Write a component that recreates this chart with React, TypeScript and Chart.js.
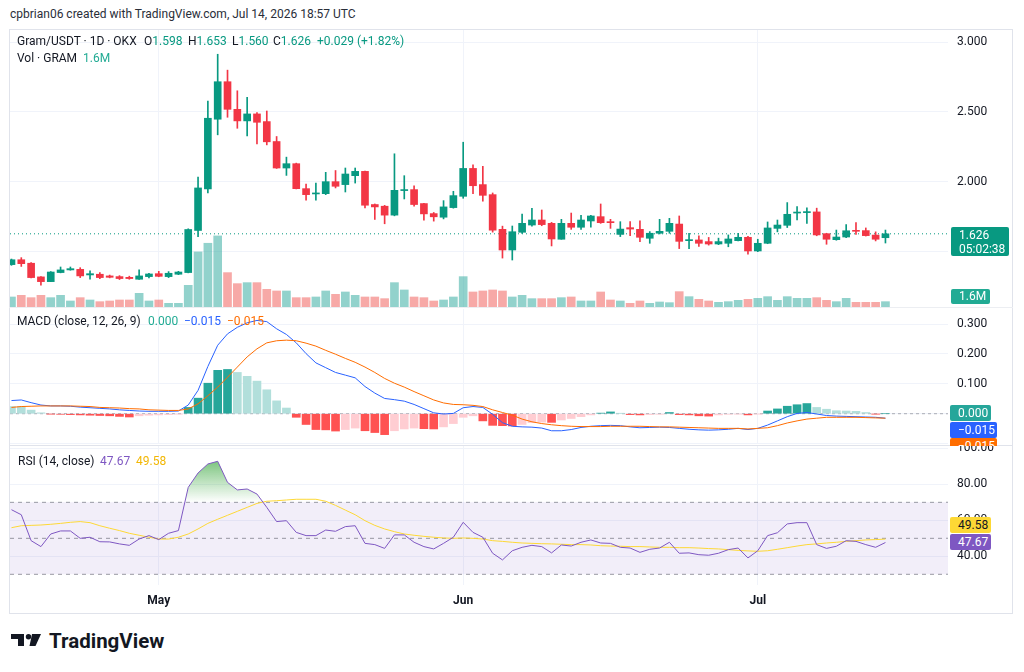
import React, { useEffect, useRef } from 'react';
import { Chart, registerables } from 'chart.js';

Chart.register(...registerables);

const FONT = 'Roboto, "Liberation Sans", Arial, sans-serif';
const TEXT = '#131722';
const GRID = '#f0f3fa';

// x index 0 = Apr 16, one candle per day
const MONTH_TICKS = [15, 46, 76];
const MONTH_LABELS = ['May', 'Jun', 'Jul'];

const OPEN = [
  1.405, 1.440, 1.415, 1.317, 1.283, 1.348, 1.367, 1.371, 1.331, 1.336,
  1.324, 1.319, 1.314, 1.300, 1.319, 1.340, 1.319, 1.336, 1.348, 1.650,
  1.948, 2.448, 2.717, 2.519, 2.436, 2.486, 2.431, 2.288, 2.098, 2.129,
  1.950, 1.912, 1.914, 2.000, 1.979, 2.043, 2.074, 1.836, 1.824, 1.760,
  1.936, 1.943, 1.843, 1.771, 1.745, 1.814, 1.895, 2.095, 1.979, 1.907,
  1.658, 1.510, 1.637, 1.689, 1.725, 1.701, 1.587, 1.701, 1.673, 1.718,
  1.749, 1.713, 1.622, 1.670, 1.658, 1.594, 1.630, 1.644, 1.696, 1.577,
  1.582, 1.570, 1.553, 1.558, 1.577, 1.601, 1.503, 1.558, 1.665, 1.687,
  1.775, 1.778, 1.783, 1.627, 1.584, 1.603, 1.650, 1.649, 1.617, 1.598,
];
const HIGH = [
  1.445, 1.455, 1.420, 1.320, 1.355, 1.388, 1.388, 1.383, 1.360, 1.348,
  1.330, 1.326, 1.322, 1.367, 1.343, 1.357, 1.355, 1.357, 1.662, 2.033,
  2.579, 2.914, 2.800, 2.652, 2.605, 2.495, 2.507, 2.324, 2.176, 2.133,
  1.983, 1.990, 2.067, 2.080, 2.098, 2.098, 2.076, 1.840, 1.830, 2.200,
  2.043, 1.971, 1.845, 1.779, 1.864, 1.931, 2.283, 2.121, 2.110, 1.919,
  1.681, 1.682, 1.768, 1.809, 1.797, 1.708, 1.730, 1.775, 1.758, 1.758,
  1.840, 1.730, 1.713, 1.713, 1.720, 1.642, 1.730, 1.737, 1.754, 1.630,
  1.612, 1.600, 1.595, 1.618, 1.630, 1.608, 1.587, 1.711, 1.725, 1.850,
  1.822, 1.812, 1.810, 1.630, 1.653, 1.693, 1.706, 1.668, 1.640, 1.653,
];
const LOW = [
  1.400, 1.392, 1.310, 1.258, 1.283, 1.346, 1.365, 1.312, 1.300, 1.305,
  1.310, 1.298, 1.300, 1.298, 1.310, 1.318, 1.312, 1.333, 1.346, 1.605,
  1.919, 2.336, 2.462, 2.383, 2.329, 2.271, 2.264, 2.095, 2.045, 1.948,
  1.867, 1.867, 1.907, 1.955, 1.926, 1.990, 1.812, 1.729, 1.698, 1.755,
  1.876, 1.824, 1.724, 1.717, 1.733, 1.810, 1.881, 1.914, 1.860, 1.638,
  1.452, 1.438, 1.629, 1.681, 1.684, 1.539, 1.587, 1.658, 1.658, 1.673,
  1.701, 1.665, 1.606, 1.613, 1.570, 1.558, 1.625, 1.630, 1.520, 1.520,
  1.535, 1.545, 1.548, 1.533, 1.575, 1.480, 1.498, 1.555, 1.640, 1.671,
  1.726, 1.700, 1.612, 1.551, 1.580, 1.598, 1.622, 1.610, 1.575, 1.560,
];
const CLOSE = [
  1.440, 1.412, 1.312, 1.283, 1.352, 1.367, 1.376, 1.324, 1.340, 1.312,
  1.314, 1.305, 1.305, 1.324, 1.338, 1.321, 1.343, 1.352, 1.657, 1.955,
  2.455, 2.717, 2.519, 2.436, 2.486, 2.426, 2.286, 2.098, 2.129, 1.950,
  1.907, 1.919, 2.000, 1.967, 2.055, 2.074, 1.831, 1.819, 1.760, 1.938,
  1.943, 1.836, 1.769, 1.748, 1.819, 1.900, 2.095, 1.971, 1.902, 1.652,
  1.510, 1.641, 1.701, 1.725, 1.692, 1.589, 1.701, 1.673, 1.725, 1.754,
  1.706, 1.706, 1.660, 1.660, 1.601, 1.630, 1.644, 1.701, 1.572, 1.584,
  1.558, 1.553, 1.570, 1.589, 1.601, 1.503, 1.558, 1.668, 1.689, 1.766,
  1.782, 1.783, 1.618, 1.587, 1.603, 1.648, 1.644, 1.613, 1.587, 1.626,
];
// volume in millions of GRAM
const VOLUME = [
  3.0, 3.5, 2.8, 3.5, 2.8, 3.5, 1.8, 2.8, 2.1, 1.6,
  1.8, 2.1, 2.1, 4.1, 1.8, 2.1, 1.1, 1.1, 6.5, 16.5,
  19.1, 21.3, 10.3, 7.0, 7.3, 7.3, 5.3, 4.8, 4.8, 2.8,
  2.8, 3.0, 4.8, 3.8, 4.5, 3.5, 3.0, 3.0, 2.5, 7.3,
  5.1, 3.0, 2.8, 1.8, 2.1, 3.0, 9.1, 4.5, 4.8, 5.1,
  4.8, 3.0, 3.5, 2.5, 2.5, 2.5, 2.8, 3.0, 1.8, 1.8,
  4.5, 2.1, 1.8, 1.1, 1.8, 1.1, 1.5, 1.3, 4.6, 3.1,
  2.3, 1.8, 1.4, 1.6, 2.0, 2.3, 2.6, 3.1, 2.0, 3.1,
  2.6, 2.6, 2.8, 2.0, 1.6, 2.6, 1.4, 1.4, 1.4, 1.6,
];
const MACD_LINE = [
  0.044, 0.046, 0.037, 0.029, 0.026, 0.026, 0.025, 0.022, 0.020, 0.018,
  0.016, 0.013, 0.011, 0.009, 0.008, 0.008, 0.008, 0.009, 0.029, 0.078,
  0.158, 0.229, 0.267, 0.289, 0.304, 0.312, 0.308, 0.284, 0.265, 0.237,
  0.201, 0.170, 0.154, 0.138, 0.129, 0.120, 0.091, 0.069, 0.051, 0.047,
  0.042, 0.031, 0.017, 0.003, -0.001, 0.001, 0.020, 0.024, 0.021, -0.002,
  -0.030, -0.042, -0.044, -0.045, -0.048, -0.057, -0.057, -0.053, -0.046, -0.042,
  -0.040, -0.039, -0.040, -0.044, -0.047, -0.046, -0.045, -0.046, -0.049, -0.052,
  -0.054, -0.055, -0.054, -0.052, -0.049, -0.053, -0.049, -0.038, -0.024, -0.010,
  0.001, 0.004, -0.001, -0.006, -0.008, -0.009, -0.010, -0.011, -0.012, -0.015,
];
const SIGNAL_LINE = [
  0.021, 0.024, 0.025, 0.026, 0.026, 0.026, 0.026, 0.025, 0.024, 0.021,
  0.020, 0.019, 0.017, 0.016, 0.013, 0.012, 0.011, 0.011, 0.016, 0.033,
  0.060, 0.089, 0.122, 0.156, 0.190, 0.217, 0.237, 0.244, 0.246, 0.244,
  0.236, 0.226, 0.212, 0.199, 0.185, 0.172, 0.156, 0.138, 0.118, 0.102,
  0.089, 0.074, 0.060, 0.046, 0.036, 0.031, 0.030, 0.028, 0.024, 0.013,
  0.004, -0.005, -0.018, -0.027, -0.033, -0.037, -0.040, -0.042, -0.043, -0.043,
  -0.043, -0.042, -0.042, -0.042, -0.042, -0.043, -0.044, -0.044, -0.045, -0.046,
  -0.047, -0.048, -0.049, -0.049, -0.049, -0.051, -0.049, -0.047, -0.040, -0.031,
  -0.024, -0.018, -0.015, -0.012, -0.012, -0.012, -0.012, -0.013, -0.014, -0.015,
];
const HISTOGRAM = [
  0.024, 0.024, 0.012, 0.003, -0.001, -0.002, -0.003, -0.004, -0.005, -0.006,
  -0.007, -0.009, -0.011, -0.007, -0.005, -0.004, -0.003, -0.001, 0.021, 0.052,
  0.102, 0.145, 0.148, 0.138, 0.125, 0.109, 0.080, 0.043, 0.019, -0.012,
  -0.036, -0.053, -0.054, -0.058, -0.053, -0.048, -0.057, -0.063, -0.070, -0.057,
  -0.051, -0.048, -0.050, -0.051, -0.044, -0.033, -0.012, -0.007, -0.024, -0.039,
  -0.040, -0.041, -0.036, -0.030, -0.028, -0.029, -0.021, -0.016, -0.010, -0.004,
  0.002, 0.006, 0.001, -0.003, -0.004, -0.003, -0.002, 0.004, -0.003, -0.004,
  -0.007, -0.008, -0.004, -0.002, -0.001, -0.004, -0.001, 0.009, 0.016, 0.025,
  0.030, 0.034, 0.021, 0.015, 0.010, 0.009, 0.008, 0.004, -0.001, 0.000,
];
const RSI = [
  65.9, 63.1, 48.7, 45.4, 52.4, 54.1, 54.1, 50.0, 50.6, 48.1,
  48.0, 46.9, 46.1, 49.6, 51.5, 49.3, 52.8, 54.3, 78.3, 86.3,
  91.3, 92.8, 81.1, 76.9, 77.4, 74.6, 67.2, 59.3, 59.8, 53.3,
  51.5, 51.5, 54.6, 53.9, 56.5, 57.0, 47.2, 46.5, 44.4, 51.9,
  51.9, 47.8, 45.4, 44.1, 47.2, 50.6, 58.9, 53.3, 50.6, 41.7,
  38.0, 43.1, 45.0, 46.1, 45.4, 41.9, 46.3, 45.7, 47.8, 49.1,
  47.4, 47.2, 45.0, 44.6, 42.2, 43.9, 44.6, 47.8, 41.7, 41.9,
  40.9, 40.6, 41.7, 43.7, 44.6, 39.1, 43.1, 51.5, 53.1, 58.0,
  58.7, 58.7, 46.5, 44.4, 45.6, 48.7, 48.3, 46.5, 45.0, 47.67,
];
const RSI_MA = [
  55.9, 57.0, 57.2, 57.4, 57.8, 58.3, 58.9, 59.3, 58.7, 57.0,
  55.6, 54.3, 52.8, 51.7, 50.6, 49.6, 49.6, 50.6, 52.4, 55.2,
  58.3, 60.6, 62.8, 65.0, 67.2, 69.4, 70.6, 70.9, 71.3, 71.7,
  71.7, 71.7, 70.6, 68.3, 65.7, 63.1, 59.8, 57.2, 55.2, 53.7,
  52.4, 51.7, 51.1, 50.6, 50.2, 50.0, 50.2, 50.0, 49.6, 48.7,
  48.3, 47.8, 47.4, 47.2, 47.0, 46.9, 46.7, 46.5, 46.5, 46.3,
  45.9, 45.7, 45.6, 45.4, 45.4, 45.2, 45.0, 45.0, 44.8, 44.8,
  44.6, 44.3, 44.1, 43.7, 43.3, 43.0, 42.8, 43.1, 43.9, 44.8,
  45.7, 46.5, 46.9, 47.4, 47.8, 48.3, 48.7, 49.1, 49.3, 49.58,
];

const PRICE_TICKS = [1.5, 2.0, 2.5, 3.0];
const MACD_TICKS = [-0.1, 0, 0.1, 0.2, 0.3];
const RSI_TICKS = [40, 60, 80, 100];
const RSI_LEVELS = [70, 50, 30];

const X_MIN = -0.15;
const X_MAX = 95.37;

const UP = '#089981';
const DOWN = '#f23645';
const VOL_UP = 'rgba(38,166,154,0.5)';
const VOL_DOWN = 'rgba(239,83,80,0.5)';

const IDX = OPEN.map((_, i) => i);
const N = OPEN.length;
const isUp = (i: number) => CLOSE[i] >= OPEN[i];

const common: any = {
  responsive: false,
  animation: false,
  devicePixelRatio: 1,
  events: [],
  layout: { padding: 0, autoPadding: false },
  plugins: { legend: { display: false }, tooltip: { enabled: false } },
};

function zeroPad(s: any) {
  s.paddingTop = 0;
  s.paddingBottom = 0;
  s.paddingLeft = 0;
  s.paddingRight = 0;
}

function xScale(showLabels: boolean): any {
  return {
    type: 'linear',
    min: X_MIN,
    max: X_MAX,
    offset: false,
    grid: { color: GRID, drawTicks: false, offset: false },
    border: { display: false },
    afterBuildTicks: (s: any) => {
      s.ticks = MONTH_TICKS.map((v) => ({ value: v }));
    },
    ticks: {
      display: showLabels,
      autoSkip: false,
      maxRotation: 0,
      padding: 9,
      color: TEXT,
      font: { family: FONT, size: 12, weight: 'bold' },
      callback: (v: number) => {
        const k = MONTH_TICKS.indexOf(v);
        return k >= 0 ? MONTH_LABELS[k] : '';
      },
    },
    afterFit: (s: any) => {
      s.height = showLabels ? 28 : 0;
      zeroPad(s);
    },
  };
}

function yScale(min: number, max: number, ticks: number[], fmt: (v: number) => string): any {
  return {
    type: 'linear',
    position: 'right',
    min,
    max,
    grid: { color: GRID, drawTicks: false },
    border: { display: false },
    afterBuildTicks: (s: any) => {
      s.ticks = ticks.map((v) => ({ value: v }));
    },
    ticks: {
      padding: 9,
      color: TEXT,
      font: { family: FONT, size: 12 },
      callback: (v: number) => fmt(v),
    },
    afterFit: (s: any) => {
      s.width = 64;
      zeroPad(s);
    },
  };
}

function hLine(y: number, extra: any): any {
  return {
    type: 'line',
    data: [
      { x: X_MIN, y },
      { x: X_MAX, y },
    ],
    pointRadius: 0,
    borderWidth: 1,
    fill: false,
    ...extra,
  };
}

function priceConfig(): any {
  const colors = IDX.map((i) => (isUp(i) ? UP : DOWN));
  return {
    type: 'bar',
    data: {
      datasets: [
        {
          type: 'bar',
          yAxisID: 'yVol',
          data: IDX.map((i) => ({ x: i, y: VOLUME[i] })),
          backgroundColor: IDX.map((i) => (isUp(i) ? VOL_UP : VOL_DOWN)),
          barThickness: 8,
          grouped: false,
          order: 4,
        },
        hLine(CLOSE[N - 1], { yAxisID: 'y', borderColor: UP, borderDash: [1, 3], order: 3 }),
        {
          type: 'bar',
          yAxisID: 'y',
          data: IDX.map((i) => ({ x: i, y: [LOW[i], HIGH[i]] })),
          backgroundColor: colors,
          barThickness: 1,
          grouped: false,
          order: 2,
        },
        {
          type: 'bar',
          yAxisID: 'y',
          data: IDX.map((i) => ({ x: i, y: [Math.min(OPEN[i], CLOSE[i]), Math.max(OPEN[i], CLOSE[i])] })),
          backgroundColor: colors,
          barThickness: 7,
          minBarLength: 1,
          grouped: false,
          order: 1,
        },
      ],
    },
    options: {
      ...common,
      scales: {
        x: xScale(false),
        y: yScale(1.101, 3.088, PRICE_TICKS, (v) => v.toFixed(3)),
        yVol: { type: 'linear', display: false, min: 0, max: 83 },
      },
    },
  };
}

function histColor(i: number) {
  const h = HISTOGRAM[i];
  const prev = i > 0 ? HISTOGRAM[i - 1] : Infinity;
  const rising = prev < h;
  if (h >= 0) return rising ? '#26a69a' : '#b2dfdb';
  return rising ? '#ffcdd2' : '#ff5252';
}

function macdConfig(): any {
  return {
    type: 'bar',
    data: {
      datasets: [
        hLine(0, { borderColor: 'rgba(120,123,134,0.6)', borderDash: [3, 3], order: 4 }),
        {
          type: 'bar',
          data: IDX.map((i) => ({ x: i, y: HISTOGRAM[i] })),
          backgroundColor: IDX.map(histColor),
          barThickness: 8,
          grouped: false,
          order: 3,
        },
        {
          type: 'line',
          data: IDX.map((i) => ({ x: i, y: MACD_LINE[i] })),
          borderColor: '#2962ff',
          borderWidth: 1,
          pointRadius: 0,
          fill: false,
          order: 2,
        },
        {
          type: 'line',
          data: IDX.map((i) => ({ x: i, y: SIGNAL_LINE[i] })),
          borderColor: '#ff6d00',
          borderWidth: 1,
          pointRadius: 0,
          fill: false,
          order: 1,
        },
      ],
    },
    options: {
      ...common,
      scales: {
        x: xScale(false),
        y: yScale(-0.1013, 0.3502, MACD_TICKS, (v) => (v < -0.05 ? '' : v.toFixed(3))),
      },
    },
  };
}

function rsiConfig(): any {
  const dash = 'rgba(120,123,134,0.75)';
  return {
    type: 'line',
    data: {
      datasets: [
        hLine(RSI_LEVELS[0], {
          borderColor: dash,
          borderDash: [4, 4],
          fill: { target: { value: RSI_LEVELS[2] } },
          backgroundColor: 'rgba(126,87,194,0.1)',
          order: 6,
        }),
        hLine(RSI_LEVELS[1], { borderColor: dash, borderDash: [4, 4], order: 5 }),
        hLine(RSI_LEVELS[2], { borderColor: dash, borderDash: [4, 4], order: 5 }),
        {
          type: 'line',
          data: IDX.map((i) => ({ x: i, y: RSI_MA[i] })),
          borderColor: '#fdd835',
          borderWidth: 1,
          pointRadius: 0,
          fill: false,
          order: 2,
        },
        {
          type: 'line',
          data: IDX.map((i) => ({ x: i, y: RSI[i] })),
          borderColor: '#7e57c2',
          borderWidth: 1,
          pointRadius: 0,
          fill: { target: { value: RSI_LEVELS[0] }, below: 'rgba(0,0,0,0)' },
          backgroundColor: (ctx: any) => {
            const chart = ctx.chart;
            if (!chart.chartArea || !chart.scales.y) return 'rgba(0,0,0,0)';
            const y = chart.scales.y;
            const g = chart.ctx.createLinearGradient(0, y.getPixelForValue(100), 0, y.getPixelForValue(70));
            g.addColorStop(0, 'rgba(76,175,80,0.95)');
            g.addColorStop(1, 'rgba(76,175,80,0)');
            return g;
          },
          order: 1,
        },
      ],
    },
    options: {
      ...common,
      scales: {
        x: xScale(true),
        y: yScale(24.06, 101.3, RSI_TICKS, (v) => v.toFixed(2)),
      },
    },
  };
}

function ChartCanvas({ left, top, width, height, make }: any) {
  const ref = useRef<HTMLCanvasElement>(null);
  useEffect(() => {
    const chart = new Chart(ref.current as HTMLCanvasElement, make());
    return () => chart.destroy();
  }, []);
  return (
    <canvas
      ref={ref}
      width={width}
      height={height}
      style={{ position: 'absolute', left, top, width, height, display: 'block' }}
    />
  );
}

function Txt({ x, y, children, color = TEXT, size = 12, weight = 400 }: any) {
  return (
    <div
      style={{
        position: 'absolute',
        left: x,
        top: y,
        transform: 'translateY(-50%)',
        color,
        fontSize: size,
        fontWeight: weight,
        lineHeight: 1.2,
        whiteSpace: 'nowrap',
      }}
    >
      {children}
    </div>
  );
}

function Badge({ x, y, w, h, bg, color = '#fff', children }: any) {
  return (
    <div
      style={{
        position: 'absolute',
        left: x,
        top: y,
        width: w,
        height: h,
        background: bg,
        color,
        fontSize: 12,
        lineHeight: `${h}px`,
        paddingLeft: 8,
        boxSizing: 'border-box',
        borderRadius: 2,
        whiteSpace: 'nowrap',
      }}
    >
      {children}
    </div>
  );
}

export default function App() {
  const G = '#089981';
  const last = N - 1;
  return (
    <div
      style={{
        position: 'fixed',
        left: 0,
        top: 0,
        width: 1024,
        height: 672,
        background: '#ffffff',
        overflow: 'hidden',
        fontFamily: FONT,
      }}
    >
      <Txt x={10} y={14} size={12} color="#2a2e39">
        cpbrian06 created with TradingView.com, Jul 14, 2026 18:57 UTC
      </Txt>

      <div
        style={{
          position: 'absolute',
          left: 9,
          top: 29,
          width: 1004,
          height: 585,
          border: '1px solid #e0e3eb',
          boxSizing: 'border-box',
        }}
      />
      <div style={{ position: 'absolute', left: 9, top: 307, width: 1004, height: 1, background: '#eceef2' }} />
      <div style={{ position: 'absolute', left: 9, top: 445, width: 1004, height: 1, background: '#e0e3eb' }} />

      <ChartCanvas left={10} top={30} width={1002} height={277} make={priceConfig} />
      <ChartCanvas left={10} top={309} width={1002} height={135} make={macdConfig} />
      <ChartCanvas left={10} top={446} width={1002} height={167} make={rsiConfig} />

      <Txt x={17} y={41}>Gram/USDT · 1D · OKX</Txt>
      <Txt x={144} y={41}>O<span style={{ color: G }}>{OPEN[last].toFixed(3)}</span></Txt>
      <Txt x={188} y={41}>H<span style={{ color: G }}>{HIGH[last].toFixed(3)}</span></Txt>
      <Txt x={232} y={41}>L<span style={{ color: G }}>{LOW[last].toFixed(3)}</span></Txt>
      <Txt x={273} y={41}>C<span style={{ color: G }}>{CLOSE[last].toFixed(3)}</span></Txt>
      <Txt x={317} y={41} color={G}>+0.029 (+1.82%)</Txt>
      <Txt x={17} y={58}>Vol · GRAM</Txt>
      <Txt x={83} y={58} color="#22ab94">{VOLUME[last].toFixed(1)}M</Txt>

      <Txt x={17} y={321}>MACD (close, 12, 26, 9)</Txt>
      <Txt x={148} y={321} color="#22ab94">0.000</Txt>
      <Txt x={184} y={321} color="#2962ff">−0.015</Txt>
      <Txt x={227} y={321} color="#ff6d00">−0.015</Txt>

      <Txt x={18} y={461}>RSI (14, close)</Txt>
      <Txt x={100} y={461} color="#7e57c2">{RSI[last].toFixed(2)}</Txt>
      <Txt x={136} y={461} color="#f2b705">{RSI_MA[last].toFixed(2)}</Txt>

      <div
        style={{
          position: 'absolute',
          left: 951,
          top: 227,
          width: 58,
          height: 29,
          background: UP,
          color: '#fff',
          fontSize: 12,
          borderRadius: 2,
          paddingLeft: 8,
          boxSizing: 'border-box',
          lineHeight: '14px',
          paddingTop: 1,
        }}
      >
        <div>{CLOSE[last].toFixed(3)}</div>
        <div>05:02:38</div>
      </div>
      <Badge x={951} y={289} w={39} h={15} bg="#22ab94">{VOLUME[last].toFixed(1)}M</Badge>

      <Badge x={950} y={405} w={41} h={16} bg="#26a69a">0.000</Badge>
      <Badge x={950} y={422} w={47} h={16} bg="#2962ff">−0.015</Badge>
      <div style={{ position: 'absolute', left: 950, top: 438, width: 47, height: 8, overflow: 'hidden' }}>
        <Badge x={0} y={0} w={47} h={16} bg="#ff6d00">−0.015</Badge>
      </div>

      <Badge x={950} y={517} w={41} h={16} bg="#fdd835" color={TEXT}>{RSI_MA[last].toFixed(2)}</Badge>
      <Badge x={950} y={534} w={41} h={16} bg="#7e57c2">{RSI[last].toFixed(2)}</Badge>

      <svg
        width={32}
        height={14}
        viewBox="0 0 32 14"
        style={{ position: 'absolute', left: 11, top: 634 }}
      >
        <path d="M0 0 H13 V12 H7 V5 H0 Z" fill="#131722" />
        <circle cx={17.5} cy={2.7} r={2.7} fill="#131722" />
        <path d="M21 0 H30 L24.5 12 H18.5 Z" fill="#131722" />
      </svg>
      <Txt x={49} y={641} size={20.5} weight={700}>TradingView</Txt>
    </div>
  );
}
